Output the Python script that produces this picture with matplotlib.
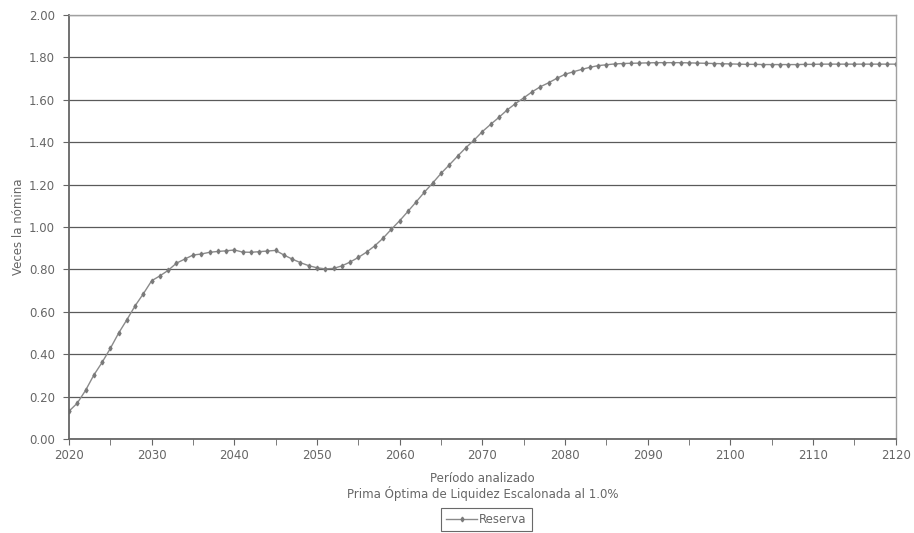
import numpy as np
import matplotlib.pyplot as plt
from matplotlib.ticker import MultipleLocator, FormatStrFormatter

plt.switch_backend('Agg')

# Annual reserve, 2020-2120
years = list(range(2020, 2121))
reserva = [
    0.132, 0.170, 0.230, 0.302, 0.362, 0.428, 0.500, 0.563, 0.629, 0.686,  # 2020-2029
    0.747, 0.770, 0.796, 0.830, 0.849, 0.868, 0.873, 0.881, 0.885, 0.888,  # 2030-2039
    0.892, 0.882, 0.881, 0.884, 0.887, 0.890, 0.868, 0.849, 0.832, 0.818,  # 2040-2049
    0.808, 0.803, 0.805, 0.817, 0.835, 0.857, 0.882, 0.912, 0.948, 0.990,  # 2050-2059
    1.030, 1.074, 1.119, 1.165, 1.208, 1.253, 1.293, 1.334, 1.374, 1.410,  # 2060-2069
    1.450, 1.484, 1.517, 1.552, 1.582, 1.609, 1.637, 1.661, 1.680, 1.701,  # 2070-2079
    1.720, 1.732, 1.743, 1.753, 1.761, 1.765, 1.769, 1.771, 1.772, 1.773,  # 2080-2089
    1.774, 1.775, 1.775, 1.775, 1.775, 1.774, 1.773, 1.772, 1.771, 1.770,  # 2090-2099
    1.769, 1.768, 1.767, 1.767, 1.766, 1.766, 1.766, 1.766, 1.766, 1.767,  # 2100-2109
    1.767, 1.768, 1.768, 1.768, 1.768, 1.768, 1.768, 1.768, 1.768, 1.768,  # 2110-2119
    1.768,                                                                 # 2120
]

texto = '#666666'
plt.rcParams['font.family'] = ['DejaVu Sans']

fig = plt.figure(figsize=(9.14, 5.33), dpi=100)
ax = fig.add_axes([0.0755, 0.176, 0.9045, 0.796])

ax.plot(years, reserva, color='#8a8a8a', lw=1.0, marker='d', markersize=2.4,
        markerfacecolor='#7a7a7a', markeredgecolor='#7a7a7a', label='Reserva')

ax.set_xlim(2020, 2120)
ax.set_ylim(0, 2.0)
ax.xaxis.set_major_locator(MultipleLocator(10))
ax.xaxis.set_minor_locator(MultipleLocator(5))
ax.yaxis.set_major_locator(MultipleLocator(0.2))
ax.yaxis.set_major_formatter(FormatStrFormatter('%.2f'))

ax.grid(axis='y', color='#5a5a5a', lw=0.9)
ax.set_axisbelow(True)

for s in ['left', 'bottom']:
    ax.spines[s].set_color('#666666')
    ax.spines[s].set_linewidth(1.3)
for s in ['right', 'top']:
    ax.spines[s].set_color('#a0a0a0')
    ax.spines[s].set_linewidth(1.0)

ax.tick_params(axis='both', which='both', colors='#666666', labelcolor=texto,
               labelsize=8.5, direction='out')
ax.tick_params(axis='x', which='major', length=4, pad=3)
ax.tick_params(axis='x', which='minor', length=4)
ax.tick_params(axis='y', length=4, pad=6)

ax.set_ylabel('Veces la nómina', fontsize=8.5, color=texto, labelpad=3)
ax.set_xlabel('Período analizado\nPrima Óptima de Liquidez Escalonada al 1.0%',
              fontsize=8.5, color=texto, labelpad=7, linespacing=1.1)

leg = fig.legend(loc='center', bbox_to_anchor=(0.532, 0.0255), frameon=True,
                 fancybox=False, fontsize=8.5, handlelength=2.6,
                 handletextpad=0.15, borderpad=0.45, labelcolor=texto)
leg.get_frame().set_edgecolor('#444444')
leg.get_frame().set_linewidth(0.8)

fig.savefig('out.png', dpi=100)
